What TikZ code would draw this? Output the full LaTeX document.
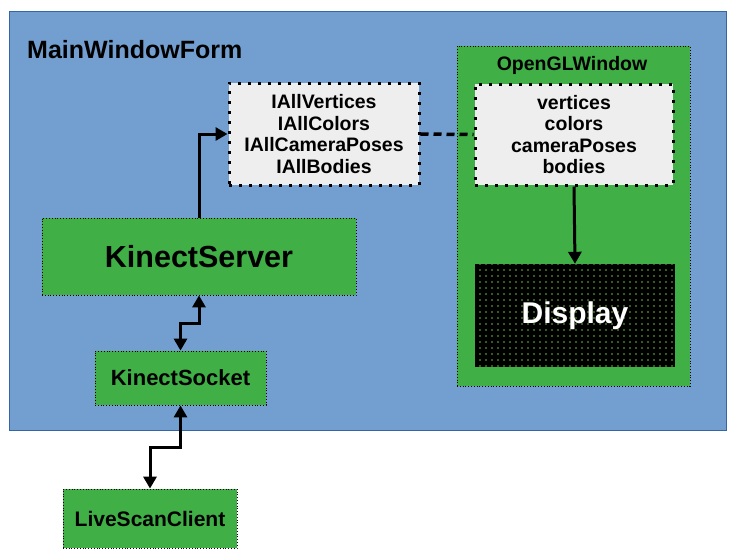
\documentclass[tikz,border=0pt]{standalone}
\usepackage{fontspec}
\setmainfont{Liberation Sans}
\usetikzlibrary{arrows.meta,patterns.meta}
\definecolor{formblue}{RGB}{114,159,207}
\definecolor{formedge}{RGB}{52,101,164}
\definecolor{boxgreen}{RGB}{63,175,70}
\definecolor{datagray}{RGB}{238,238,238}
\definecolor{dotgreen}{RGB}{110,190,50}

\begin{document}
\begin{tikzpicture}[x=1pt, y=-1pt,
    comp/.style={draw=black, line width=0.8pt, dotted, fill=boxgreen, inner sep=0pt, font=\bfseries},
    databox/.style={draw=black, line width=3pt, dash pattern=on 3pt off 7pt, fill=datagray,
        inner sep=0pt, align=center, font=\fontsize{19.5}{21.5}\selectfont\bfseries},
    link/.style={line width=3pt, -{Triangle[width=13pt,length=12pt]}},
    duplex/.style={line width=3pt, {Triangle[width=13pt,length=12pt]}-{Triangle[width=13pt,length=12pt]}},
]
    \useasboundingbox (0,0) rectangle (739,558);

    % main window
    \node[draw=formedge, line width=0.8pt, fill=formblue, minimum width=717pt, minimum height=419pt]
        (mainform) at (367.5,220.5) {};
    \node[anchor=west, inner sep=0pt, font=\fontsize{25}{28}\selectfont\bfseries] (formtitle) at (27,50) {MainWindowForm};

    % shared data
    \node[databox, minimum width=190pt, minimum height=102pt] (alldata) at (324,134)
        {IAllVertices\\IAllColors\\IAllCameraPoses\\IAllBodies};

    % OpenGL window
    \node[comp, minimum width=233pt, minimum height=340pt] (glwin) at (573.5,216) {};
    \node[font=\fontsize{19.5}{22}\selectfont\bfseries] (gltitle) at (572,65) {OpenGLWindow};
    \node[databox, minimum width=198pt, minimum height=101pt] (gldata) at (574,134.5)
        {vertices\\colors\\cameraPoses\\bodies};
    \node[preaction={fill=black}, pattern={Dots[distance=6pt, radius=0.8pt]}, pattern color=dotgreen,
        minimum width=200pt, minimum height=103pt, inner sep=0pt, text=white,
        font=\fontsize{30}{36}\selectfont\bfseries] (display) at (575,315.5) {Display};

    % kinect side
    \node[comp, minimum width=314pt, minimum height=77pt, font=\fontsize{30.5}{36}\selectfont\bfseries]
        (server) at (199,256.5) {KinectServer};
    \node[comp, minimum width=171pt, minimum height=54pt, font=\fontsize{22}{25}\selectfont\bfseries]
        (socket) at (180.5,378) {KinectSocket};
    \node[comp, minimum width=174pt, minimum height=59pt, font=\fontsize{21}{25}\selectfont\bfseries]
        (client) at (150,518.5) {LiveScanClient};

    % connectors
    \draw[link] (server.north) |- (alldata.west);
    \draw[line width=3.5pt, dash pattern=on 8pt off 5pt] (alldata.east) -- (gldata.west);
    \draw[link] (gldata.south) -- (display.north);
    \draw[duplex] (server.south) -- ++(0,28) -| (socket.north);
    \draw[duplex] (socket.south) -- ++(0,42) -| (client.north);
\end{tikzpicture}
\end{document}
